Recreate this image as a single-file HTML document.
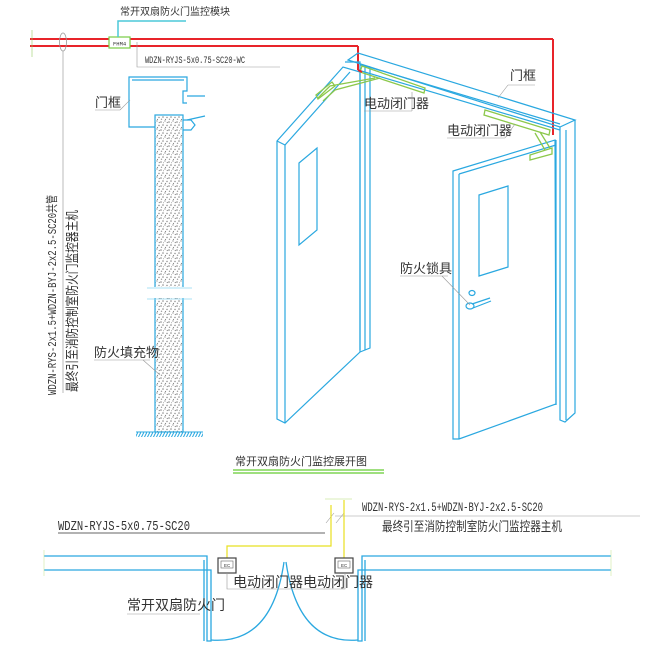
<!DOCTYPE html>
<html><head><meta charset="utf-8"><style>
html,body{margin:0;padding:0;background:#fff;}
svg{display:block;}
text{font-family:"Liberation Sans","Noto Sans CJK SC",sans-serif;fill:#333;}
.m{font-family:"Liberation Mono","Noto Sans CJK SC",monospace;}
</style></head><body>
<svg width="654" height="651" viewBox="0 0 654 651" xmlns="http://www.w3.org/2000/svg">
<defs>
<pattern id="sp" width="8" height="8" patternUnits="userSpaceOnUse">
<rect width="8" height="8" fill="#fff"/>
<circle cx="1" cy="2" r="0.8" fill="#888"/><circle cx="5" cy="1" r="0.7" fill="#999"/>
<circle cx="3" cy="5" r="0.8" fill="#888"/><circle cx="7" cy="5.5" r="0.7" fill="#888"/>
<circle cx="1.5" cy="7.3" r="0.7" fill="#999"/><circle cx="7.3" cy="2.5" r="0.6" fill="#888"/>
<circle cx="5.5" cy="7.5" r="0.6" fill="#888"/><circle cx="3.5" cy="2.8" r="0.5" fill="#999"/>
</pattern>
<pattern id="ht" width="3" height="6" patternUnits="userSpaceOnUse">
<line x1="0" y1="6" x2="3" y2="0" stroke="#2aa8e0" stroke-width="1"/>
</pattern>
</defs>

<g stroke="#e8242a" stroke-width="2" fill="none">
<line x1="30" y1="39" x2="109" y2="39"/><line x1="130" y1="39" x2="553" y2="39"/>
<line x1="30" y1="46" x2="109" y2="46"/><line x1="130" y1="46" x2="358" y2="46"/>
<polyline points="553,39 553,135"/>
<polyline points="358,46 358,70"/>
</g>
<line x1="32" y1="30" x2="32" y2="57" stroke="#9c6" stroke-width="0.6"/>
<rect x="109" y="37" width="21" height="11" fill="#fff" stroke="#7c4" stroke-width="1.2"/>
<text x="113" y="45.5" font-size="5.5" class="m">FHM4</text>
<polyline points="118,37 118,21 186,21" fill="none" stroke="#4cc8d8" stroke-width="1.5"/>
<text x="120" y="15" font-size="10">常开双扇防火门监控模块</text>
<ellipse cx="63" cy="42" rx="3.5" ry="9" fill="none" stroke="#999" stroke-width="0.8"/>
<line x1="63" y1="51" x2="63" y2="393" stroke="#aaa" stroke-width="0.8"/>
<polyline points="137,42 137,67 280,67" fill="none" stroke="#999" stroke-width="0.6"/>
<text x="145" y="63" font-size="10" class="m" textLength="100" lengthAdjust="spacingAndGlyphs">WDZN-RYJS-5x0.75-SC20-WC</text>

<text transform="translate(56,395) rotate(-90)" font-size="12" class="m" textLength="200" lengthAdjust="spacingAndGlyphs">WDZN-RYS-2x1.5+WDZN-BYJ-2x2.5-SC20共管</text>
<text transform="translate(77,392) rotate(-90)" font-size="13.5" textLength="182" lengthAdjust="spacingAndGlyphs">最终引至消防控制室防火门监控器主机</text>

<g stroke="#2aa8e0" stroke-width="1.2" fill="none">
<polyline points="155,127 129,127 129,77 187,77 187,91 183,91 183,103 187,103"/>
<line x1="132" y1="80" x2="184" y2="80"/>
<line x1="187" y1="96" x2="205" y2="96"/>
<line x1="187" y1="120" x2="205" y2="116"/>
<path d="M183,120 l8,0 l4,5 l-4,5 l-8,0"/>
</g>
<rect x="155" y="115" width="28" height="317" fill="url(#sp)" stroke="#2aa8e0" stroke-width="1.2"/>
<rect x="150" y="287" width="42" height="11" fill="#fff"/>
<line x1="147" y1="288" x2="192" y2="288" stroke="#8cd6f0" stroke-width="0.8"/>
<line x1="147" y1="299" x2="192" y2="299" stroke="#8cd6f0" stroke-width="0.8"/>
<rect x="136" y="432" width="67" height="5" fill="url(#ht)"/>
<line x1="136" y1="432" x2="203" y2="432" stroke="#2aa8e0" stroke-width="1"/>
<text x="95" y="107" font-size="13">门框</text>
<line x1="95" y1="110" x2="120" y2="110" stroke="#999" stroke-width="0.6"/>
<line x1="120" y1="110" x2="130" y2="100" stroke="#999" stroke-width="0.6"/>
<text x="94" y="357" font-size="13">防火填充物</text>
<line x1="94" y1="360" x2="150" y2="360" stroke="#999" stroke-width="0.6"/>
<line x1="143" y1="360" x2="160" y2="375" stroke="#999" stroke-width="0.6"/>

<g stroke="#2aa8e0" stroke-width="1.2" fill="none">
<polygon points="277,141 343,67 360,72 360,352 285,423 277,419"/>
<line x1="285" y1="145" x2="285" y2="423"/>
<line x1="277" y1="141" x2="285" y2="145"/>
<line x1="285" y1="145" x2="350" y2="72"/>
<polygon points="299,163 317,148 317,230 299,245"/>
<polyline points="345,62 360,62 360,350"/>
<polyline points="360,65 370,67 370,348 360,352"/>
<line x1="365" y1="66" x2="365" y2="350"/>
<polygon points="348,60 358,53 575,120 560,127"/>
<line x1="358" y1="70" x2="560" y2="130"/>
<line x1="362" y1="65" x2="560" y2="124"/>
<polyline points="560,127 560,420 565,422 575,413 575,120"/>
<line x1="566" y1="130" x2="566" y2="420"/>
<line x1="556" y1="140" x2="556" y2="405"/>
<polygon points="453,171 555,140 556,404 459,439 453,439"/>
<line x1="459" y1="174" x2="459" y2="439"/>
<line x1="459" y1="174" x2="556" y2="145"/>
<polygon points="479,195 508,186 508,267 479,276"/>
<ellipse cx="472" cy="293" rx="3" ry="2.5"/>
<ellipse cx="470" cy="306" rx="4" ry="3"/>
<line x1="472" y1="304" x2="490" y2="298"/>
<line x1="473" y1="308" x2="491" y2="301"/>
</g>
<g stroke="#8cc84b" stroke-width="1.3" fill="none">
<polygon points="362,66 425,88 424,93 360,72"/>
<polyline points="375,78 330,86 318,98"/>
<polyline points="380,78 335,90 323,101"/>
<polygon points="316,95 332,82 335,86 318,99"/>
<polygon points="485,110 550,130 549,135 484,115"/>
<polyline points="535,133 545,150"/>
<polyline points="540,132 550,148"/>
<polygon points="530,155 552,148 552,154 530,160"/>
</g>
<line x1="358" y1="70" x2="362" y2="72" stroke="#e8242a" stroke-width="2"/>
<text x="510" y="80" font-size="13">门框</text>
<line x1="508" y1="85" x2="535" y2="85" stroke="#999" stroke-width="0.6"/>
<line x1="508" y1="85" x2="498" y2="98" stroke="#999" stroke-width="0.6"/>
<text x="364" y="108" font-size="13">电动闭门器</text>
<line x1="364" y1="111" x2="412" y2="111" stroke="#999" stroke-width="0.6"/>
<line x1="412" y1="111" x2="412" y2="92" stroke="#999" stroke-width="0.6"/>
<text x="447" y="135" font-size="13">电动闭门器</text>
<line x1="447" y1="138" x2="505" y2="138" stroke="#999" stroke-width="0.6"/>
<line x1="505" y1="138" x2="515" y2="124" stroke="#999" stroke-width="0.6"/>
<text x="400" y="273" font-size="13">防火锁具</text>
<line x1="400" y1="276" x2="448" y2="276" stroke="#999" stroke-width="0.6"/>
<line x1="442" y1="276" x2="470" y2="305" stroke="#999" stroke-width="0.6"/>

<text x="235" y="465" font-size="11">常开双扇防火门监控展开图</text>
<line x1="233" y1="470" x2="384" y2="470" stroke="#6c3" stroke-width="1.2"/>
<line x1="233" y1="473" x2="384" y2="473" stroke="#6c3" stroke-width="1.2"/>

<text x="58" y="530" font-size="14" class="m" textLength="132" lengthAdjust="spacingAndGlyphs">WDZN-RYJS-5x0.75-SC20</text>
<line x1="58" y1="533" x2="325" y2="533" stroke="#333" stroke-width="0.8"/>
<text x="362" y="511" font-size="12.5" class="m" textLength="181" lengthAdjust="spacingAndGlyphs">WDZN-RYS-2x1.5+WDZN-BYJ-2x2.5-SC20</text>
<line x1="335" y1="516" x2="640" y2="516" stroke="#999" stroke-width="0.6"/>
<text x="382" y="531" font-size="13" textLength="180" lengthAdjust="spacingAndGlyphs">最终引至消防控制室防火门监控器主机</text>
<line x1="325" y1="499" x2="352" y2="499" stroke="#cde8a0" stroke-width="0.8"/>
<line x1="326" y1="523" x2="334" y2="513" stroke="#999" stroke-width="0.6"/>
<line x1="336" y1="523" x2="344" y2="513" stroke="#999" stroke-width="0.6"/>
<g stroke="#e8e020" stroke-width="1.2" fill="none">
<polyline points="227,558 227,546 331,546 331,505"/>
<polyline points="344,558 344,500"/>
</g>
<g stroke="#2aa8e0" stroke-width="1.3" fill="none">
<polyline points="44,556 207,556 207,641 211,641 211,570 44,570"/>
<polyline points="611,556 362,556 362,641 358,641 358,570 611,570"/>
<line x1="204" y1="560" x2="204" y2="641"/>
<line x1="365" y1="560" x2="365" y2="641"/>
<path d="M211,640 Q272,645 284,562"/>
<path d="M358,640 Q298,645 286,562"/>
</g>
<line x1="44" y1="550" x2="44" y2="576" stroke="#cde8a0" stroke-width="0.6"/>
<line x1="611" y1="550" x2="611" y2="576" stroke="#cde8a0" stroke-width="0.6"/>
<g stroke="#444" stroke-width="1.2" fill="#fff">
<rect x="218" y="558" width="18" height="15"/>
<rect x="335" y="558" width="18" height="15"/>
</g>
<rect x="221" y="561" width="12" height="7" fill="none" stroke="#666" stroke-width="0.6"/>
<rect x="338" y="561" width="12" height="7" fill="none" stroke="#666" stroke-width="0.6"/>
<text x="224" y="567" font-size="4.5">EC</text><text x="341" y="567" font-size="4.5">EC</text>
<polyline points="227,573 227,589 345,589 345,573" fill="none" stroke="#999" stroke-width="0.6"/>
<text x="233" y="587" font-size="14">电动闭门器电动闭门器</text>
<text x="127" y="610" font-size="14">常开双扇防火门</text>
<line x1="127" y1="614" x2="200" y2="614" stroke="#999" stroke-width="0.6"/>
</svg>
</body></html>
